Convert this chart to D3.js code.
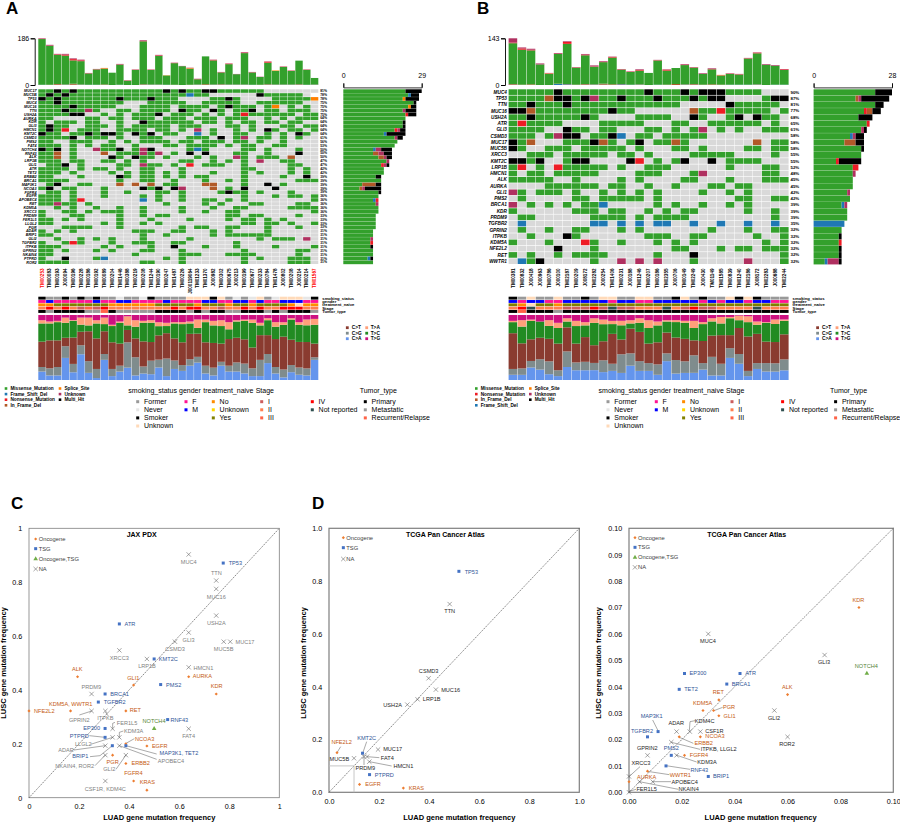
<!DOCTYPE html>
<html>
<head>
<meta charset="utf-8">
<script src="https://cdn.jsdelivr.net/npm/d3@7"></script>
<style>
body { margin: 0; background: #fff; }
text { font-family: "Liberation Sans", Arial, sans-serif; fill: #000; }
</style>
</head>
<body>
<div id="chart"></div>
<script>
// ---- panel A data ----
var samplesA = ["TM00253","TM00083","TM00193","J000094","TM00196","TM00228","TM00186","TM00192","TM00089","TM00204","TM01446","TM00388","TM00219","TM00208","TM01244","TM00190","TM00247","TM01487","TM00226","J000119064","TM01233","TM01370","J000982","TM00302","TM00675","J000213","TM00199","TM00677","TM00233","TM00784","TM01478","J000802","TM00208","J000214","TM00214","TM01567"];
var genesA = ["MUC17","MUC5B","TP53","MUC4","MUC16","TTN","USH2A","AURKA","KDR","GLI3","HMCN1","KMT2C","CSMD3","PMS2","FAT4","NOTCH4","RNF43","ALK","LRP1B","GLI1","ATR","TET2","ERBB2","BRCA1","MAP3K1","NCOA3","FGFR4","EGFR","APOBEC4","RET","KDM5A","XRCC3","PRDM9","FER1L5","LLGL2","PGR","ADAR","BRIP1","GLI2","TGFBR2","ITPKB","GPRIN2","NKAIN4","PTPRD","ROR2"];
// one string per gene, one letter per sample: g missense, b frame shift, r nonsense, n in frame, o splice, p unknown, k multi hit
var matrixA = [
"ggkgkg gggggg ggggkg kggkkg ggggg. ......",
"gkgkgg gggggg gggggg gbgg.. ....k ggggg.",
"kgkggg ggggkg ggkggg ....gg kg.... gggggo",
"ggkggg ggggg. ..gggg g..ggg gg..gg gggg..",
"ggggkg gggg.. .gggg. gggg.g kggg.g o.g.g.",
"gggkgg pg..gg .gggg. kgg.kg .ggk.g g.ggg.",
"ggggkk ..g.g. gggk.g gg.g.g .grggg ggg.gg",
"gg.... gg.gg. ggg.gg g.ggg. ggg..g .g.ggg",
"g.ggg. gg..g. .kgggg gg.gg. g.gg.g g.gg..",
"gkgg.. ggg.g. ggggg. ggg... gg.g.. .gg.gg",
"gkgr.g gg..gg gg.gg. g.p.g. .g.g.k g.gg.g",
"kgg.gg kgkkg. kgk.gg ..b.g. .gg..g .g.kg.",
"ggggk. ggg.g. .ggg.. .ggg.k .gp.gg .g.g..",
"gg..gg g..g.g .gggg. gg.ggg .gg.g. .g....",
"ggg.g. g.gg.. g...gg .gggg. g.gg.. gg....",
"kgk.g. .pggk. gpk... .gbg.. ..gg.g ...g..",
"ggn.g. ..n.gg gpgp.g .k.k.. .gg..g ...k..",
"ggn.g. ...kg. kgg.g. ..g.g. .pg.gg g.n...",
"ggg.gg ..gg.g .g.... gg..g. g.g.p. .gg...",
".ggk.g ....gg .pgg.g .r.ggg ..g... ..gg..",
"gggg.g .gg.g. .gg... g..... ..gg.. ..g.g.",
"ggg.g. ...g.g .gg.g. g...g. ..g.g. ..g.g.",
"gg...g ....kg .gg.g. g.gg.. ..g... .g..k.",
"gggg.. ....g. .gg..g ...g.. g.g... ...ggg",
".gk..g g...n. n.n.gg ...nn. ..g..k .g....",
"gk.gg. ..g... .kgk.k p...n. g.k... k.....",
".gg.g. ..g..g ...gg. g....g kgg.g. ..g...",
"ggg.g. ..g... .g.g.. g..... ..g... g.gg.g",
"ggg.gr ...... .b.g.. g..gg. g.g... .....g",
"ggpgg. g..... ....g. ...g.g ...gg. ...gg.",
"..g.g. .g..g. .g.... g...g. .gg... ..gggg",
"g..gg. g.ggg. .g.... g..g.. gg.... .....g",
"g...gg ....g. .g.gg. ...... gg.gg. ...g..",
"gg.g.g ....g. ..g... .g.... g.gg.g .g....",
"gg.... ..g.g. .g.g.. ...... ..gg.g g.g..g",
"...ggg g...g. ...... g.gg.. gg...g ...g..",
"g.g.g. ...... ggg..g g...g. g....g ......",
"gg.... ...... .g..g. ....g. gggggg ......",
"..g..g .g.g.. .g.... .g.... ....g. ggg.p.",
"g..grg ...g.. ggg..g g..... .g.... ......",
"ggg... ..g.g. ..g..k ...g.. .g.... g....g",
"gg.g.. .g.g.. .gg... g..... ..g... ...gg.",
"gg.... ...... g..... ggg... gggg.. ...g..",
"g..k.. .gb... ....g. g..... ..g.g. ..ggg.",
"gggg.. ...... .gg... g..... ..g... ..ggg."
];
var missenseA = [182,155,116,115,93,93,45,61,63,49,80,17,60,171,58,114,37,86,75,64,21,111,96,47,81,41,125,49,31,86,54,70,54,94,59,26];
var frameShiftA = [1,0,1,1,1,1,1,1,0,0,1,0,0,1,1,1,1,0,0,0,1,0,1,1,1,1,1,1,0,1,1,1,1,1,1,1];
var inFrameA = [0,1,3,1,4,1,0,0,2,0,0,0,0,2,1,1,0,1,0,1,1,3,1,2,1,1,1,0,1,2,1,1,1,2,0,1];
var nonsenseA = [1,1,2,4,5,3,1,1,1,0,1,1,1,1,1,2,0,1,0,1,1,0,2,1,2,0,2,1,0,4,0,1,1,0,1,0];
var spliceA = [0,0,0,0,0,0,0,0,2,0,0,0,0,0,0,0,1,0,0,2,0,0,0,0,0,0,0,0,0,0,2,0,0,0,0,0];
var unknownA = [2,3,2,3,3,3,1,1,0,0,2,1,1,3,1,2,0,1,1,1,1,0,1,1,1,1,2,1,1,1,0,1,1,0,1,0];
var smokingA = "SFFSFS FSFFNF FNSFFF FUUUSU FNFNUF NUUUNS";
var genderA = "FMFFFF FMFFMM FFFFMF FFFMMF FMMFMF FMMMFF";
var treatmentA = "NNYYYY YYYNNN NNNYYY YYNYYY NYYNYY YYNPNN";
var stageA = "242421 314222 222224 244221 224242 244422";
var tumorA = "PMPPPP MMRPMM MMMPPP PMPMPP MMPPPM PMPPPM";
var caA = [13,7,7,34,12,40,11,3,31,6,13,19,7,10,9,19,6,17,14,22,27,10,7,22,13,13,10,6,6,26,10,4,12,8,7,31];
var cgA = [7,11,13,18,13,14,18,14,9,11,9,39,28,11,21,12,27,13,9,10,9,12,12,6,9,14,15,12,25,14,10,12,11,11,11,4];
var ctA = [39,43,41,13,41,21,46,47,35,41,34,19,29,39,29,37,39,34,35,39,36,36,38,28,41,38,37,32,38,29,43,50,39,39,41,21];
var tcA = [28,26,28,23,26,11,9,23,11,25,32,7,18,29,30,14,11,23,28,16,9,31,27,27,15,25,28,38,15,23,19,18,31,26,26,29];
var taA = [5,3,2,8,1,11,12,5,10,2,2,14,10,3,4,6,5,2,3,3,13,4,7,9,11,2,2,5,4,3,7,4,2,4,9,9];
var tgA = [8,10,9,4,8,4,4,8,4,15,10,2,8,9,8,11,12,11,11,10,7,7,9,8,11,8,7,7,12,5,11,11,5,11,7,6];

// ---- panel B data ----
var samplesB = ["TM00381","TM00832","J000418","J000963","TM00786","J000100","TM02187","TM00209","J008172","TM02282","J000254","TM01406","TM00231","J000188","TM01246","TM00207","TM00186","TM02355","J000706","TM00149","TM02249","J000430","TM01149","TM01585","TM00839","TM01240","TM02186","J008172","TM02283","J000688","TM02244"];
var genesB = ["MUC4","TP53","TTN","MUC16","USH2A","ATR","GLI3","CSMD3","MUC17","MUC5B","XRCC3","KMT2C","LRP1B","HMCN1","ALK","AURKA","GLI1","PMS2","BRCA1","KDR","PRDM9","TGFBR2","GPRIN2","ITPKB","KDM5A","NFE2L2","RET","WWTR1"];
var matrixB = [
"ggggg kgggg ggggg kgggk gkkkg ggg.. .",
"ggggn kkgkp ggkgg gkggg kgkk. ...gk k",
"ggkgg gkggg ggggg gggg. ....k ggggg .",
"kkngg ggggg gkgg. ..... nggrg gggg. g",
"ggkgg gggkg ....g ggg.. kg..g k.kgg .",
"grggg g.... ggggg ...gg ..ggg ggg.g .",
"gggg. .kgg. gg... gg.g. gp.g. g..gg g",
"ggg.g pkk.g gkb.g g.ggg gg... ..... .",
"kgn.. .gggk ng.gk .ggng ..... ..n.g g",
"kg..g gg.gg ggg.g ...gg .g... .gg.g g",
"..ggg .gggg g.gg. g.... ggggg ....g .",
"kkgk. .gkk. ...kr .g.gk ..k.g ggg.. .",
"gr.g. rgggg g.g.. ggg.. ....g ...gg .",
"g.gg. ggggg ....g gg... gp... ...gg .",
"ggggg ..g.. ..g.g ....g g...g ...gg g",
"....g ggggg .gg.. g..g. ..gg. gg... .",
"pg.gg g.g.. g.g.g .g... .g..g .g... .",
".g... ..gg. ggggg .g... ..... gg..g g",
"p.g.g .g.gg b.... .g.g. .g..g .g... .",
"g.... ..ggg .gg.. g.g.g g.... .g..g .",
".gg.. ....g ggg.g .gggg ..... ....g .",
".b... ....b b.b.b .bb.. b..b. .b..b .",
".g..g ..gg. ..g.g ..... ..g.. .g..g g",
"..g.. .kg.. ..... ggg.. gg... ..g.. g",
"g...g ...rg ..g.. .g.g. g.... ...g. g",
"..... k...g ..... ...gg ...g. gg.gg g",
"g.g.. g.ggg g.... .g... k.... ..... g",
".bgk. ....g ..p.p .p... g.... .p... g"
];
var missenseB = [125,107,104,63,34,91,123,52,88,54,66,82,44,39,42,37,74,43,49,59,50,33,46,28,33,31,80,95,62,58,45];
var frameShiftB = [1,0,0,0,0,3,2,0,1,1,1,0,2,1,1,0,1,0,0,1,1,0,0,0,1,1,1,1,0,1,1];
var inFrameB = [2,1,2,0,0,1,1,1,2,1,3,2,1,0,1,0,0,1,3,1,2,1,2,1,0,0,0,1,0,0,0];
var nonsenseB = [2,4,2,0,1,1,6,1,2,1,1,2,1,1,2,0,1,3,0,1,1,0,1,1,1,1,1,2,0,0,2];
var spliceB = [0,0,0,0,1,0,0,0,0,0,0,0,0,0,0,0,0,0,0,0,0,0,0,1,0,0,0,0,0,0,0];
var unknownB = [13,3,3,3,1,2,2,1,2,3,2,1,1,1,2,0,1,1,0,2,1,2,2,0,1,1,1,1,2,2,1];
var smokingB = "SFUFF UFFSF UUFFU UFFSU FSFFU SUSFF F";
var genderB = "MFMMF FMMMM MFMMF FMMMM MFMFM MFMMF F";
var treatmentB = "YNPYY NYYYY YYYYY YYYYY YYYYY YYYYY Y";
var stageB = "24N22 21114 1N112 22N21 41122 22N22 2";
var tumorB = "PRPPP MPPPP PPPPP PPPPP PPPPP PPPPP P";
var caB = [8,8,19,16,9,6,20,15,15,15,12,14,11,22,14,14,8,29,10,11,11,16,7,7,34,25,6,17,13,13,15];
var cgB = [9,10,10,16,20,9,24,12,13,11,18,11,29,19,15,12,16,12,21,18,27,10,29,18,15,15,8,9,13,13,17];
var ctB = [55,39,33,33,35,41,37,29,38,27,29,46,23,38,45,30,34,32,35,35,23,34,33,44,20,40,53,45,33,33,39];
var tcB = [17,26,28,25,20,24,9,27,18,34,26,15,22,8,14,24,26,17,24,25,19,26,22,18,26,12,22,14,29,28,21];
var taB = [2,10,2,0,9,8,5,8,5,7,7,5,7,5,7,12,6,2,3,3,11,3,5,10,2,7,9,5,1,7,2];
var tgB = [9,8,7,10,8,12,5,9,11,5,7,9,9,8,5,8,10,8,8,9,9,11,5,3,3,1,2,10,11,7,7];

// ---- scatter data ----
var jaxGenes = ["ALK","KDM5A, WWTR1","NFE2L2","GLI1","AURKA","KDR","RET","NCOA3","EGFR","PGR","ERBB2","FGFR4","KRAS","TP53","ATR","KMT2C","PMS2","BRCA1","TGFBR2","RNF43","EP300","PTPRD","BRIP1","MAP3K1, TET2","NOTCH4","MUC4","TTN","MUC16","USH2A","GLI3","CSMD3","MUC5B","MUC17","XRCC3","LRP1B","HMCN1","PRDM9","GPRIN2","ITPKB","FER1L5","FAT4","KDM3A","LLGL2","ADAR","APOBEC4","NKAIN4, ROR2","GLI2","CSF1R, KDM4C"];
var jaxLuad = [.194,.166,0,.418,.638,.748,.387,.387,.471,.334,.387,.418,.471,.776,.361,.5,.526,.304,.277,.554,.304,.304,.333,.387,.5,.638,.748,.748,.748,.638,.583,.778,.804,.361,.471,.638,.25,.25,.305,.334,.638,.361,.334,.305,.361,.305,.387,.305];
var jaxLusc = [.449,.322,.322,.418,.449,.385,.322,.2,.192,.158,.127,.062,.028,.871,.645,.515,.42,.385,.355,.29,.257,.224,.193,.193,.256,.903,.806,.775,.676,.613,.579,.579,.579,.547,.515,.484,.385,.322,.322,.256,.256,.224,.224,.193,.193,.158,.158,.062];
var jaxTypes = "OOOOOOOOOOOOOTTTTTTTTTTTGNNNNNNNNNNNNNNNNNNNNNNN";

var tcgaGenes = ["TP53","PTPRD","KMT2C","EGFR","KRAS","NFE2L2","TTN","CSMD3","MUC16","LRP1B","USH2A","MUC17","FAT4","MUC5B","HMCN1","PRDM9"];
var tcgaLuad = [.519,.162,.134,.122,.297,.032,.482,.398,.427,.354,.313,.196,.152,.1,.161,.14];
var tcgaLusc = [.837,.067,.148,.03,.016,.15,.713,.432,.389,.352,.332,.162,.135,.129,.116,.135];
var tcgaTypes = "TTTOOONNNNNNNNNN";

var lowGenes = ["KDR","ALK","RET","KDM5A","PGR","GLI1","NCOA3","ERBB2","FGFR4","WWTR1","AURKA","EP300","ATR","BRCA1","TET2","MAP3K1","TGFBR2","PMS2","RNF43","BRIP1","NOTCH4","GLI3","GLI2","ROR2","MUC4","ADAR","KDM4C","CSF1R","ITPKB, LLGL2","KDM3A","GPRIN2","XRCC3","APOBEC4","NKAIN4","FER1L5"];
var lowLuad = [.087,.06,.034,.028,.032,.034,.027,.019,.021,.007,0,.021,.042,.037,.019,.011,.007,.016,.014,.03,.09,.074,.055,.06,.03,.018,.023,.027,.016,.018,.007,0,.009,.004,0];
var lowLusc = [.07,.037,.035,.031,.031,.029,.021,.021,.014,.008,.004,.045,.045,.041,.039,.023,.021,.014,.01,.006,.045,.052,.031,.021,.06,.023,.023,.023,.019,.014,.014,.006,.004,.004,0];
var lowTypes = "OOOOOOOOOOOTTTTTTTTTGNNNNNNNNNNNNNN";

// ---- colours ----
var mutColors = {g:"#33a02c", b:"#1f78b4", r:"#ee1c25", n:"#b15928", o:"#ff7f00", p:"#b03060", k:"#000000"};
var trackColors = [
    {F:"#999999", N:"#e6e6e6", S:"#000000", U:"#ffdab9"},
    {F:"#ff1493", M:"#0000ff"},
    {N:"#ff8c00", U:"#ffd700", Y:"#808000", P:"#ffdab9"},
    {1:"#cd5c5c", 2:"#ff7f50", 3:"#ff6347", 4:"#ff0000", N:"#2f4f4f"},
    {P:"#000000", M:"#999999", R:"#ff6347"}
];
var titvColors = {ca:"#6495ed", cg:"#7f8c8d", ct:"#8a3b30", tc:"#228b22", ta:"#ffa07a", tg:"#cd1080"};
var typeColors = {O:"#ed7d31", T:"#4472c4", G:"#70ad47", N:"#595959"};
var labelColors = {O:"#c55a11", T:"#2f5597", G:"#548235"};

var svg = d3.select("#chart").append("svg")
    .attr("width", 900)
    .attr("height", 822);

function clean(s) { return s.replace(/ /g, ""); }

function square(g, x, y, size, color) {
    g.append("rect").attr("x", x - size / 2).attr("y", y - size / 2)
        .attr("width", size).attr("height", size).attr("fill", color);
}

function note(g, x, y, size, str) {
    return g.append("text").attr("x", x).attr("y", y).attr("dy", "0.35em")
        .style("font-size", size + "px").text(str);
}

function drawOnco(dx, d) {
    var g = svg.append("g").attr("transform", `translate(${dx}, 0)`);
    var rows = d.matrix.map(clean);
    var x = d3.scaleBand().domain(d3.range(d.samples.length)).range([38.3, 318.3]).paddingInner(0.05);
    var y = d3.scaleBand().domain(d.genes).range([89.3, 264]).paddingInner(0.1);

    // sample stacks on top
    var topKeys = ["frameShift", "inFrame", "missense", "nonsense", "splice", "unknown"];
    var topColors = {frameShift:mutColors.b, inFrame:mutColors.n, missense:mutColors.g, nonsense:mutColors.r, splice:mutColors.o, unknown:mutColors.p};
    var topData = d.samples.map((s, i) => {
        var o = {i: i};
        topKeys.forEach(k => { o[k] = d[k][i]; });
        return o;
    });
    var topY = d3.scaleLinear().domain([0, d.topMax]).range([85, 38.3]);
    g.selectAll(".top").data(d3.stack().keys(topKeys)(topData)).enter().append("g")
        .attr("fill", s => topColors[s.key])
        .selectAll("rect").data(s => s).enter().append("rect")
        .attr("x", p => x(p.data.i))
        .attr("width", x.bandwidth())
        .attr("y", p => topY(p[1]))
        .attr("height", p => topY(p[0]) - topY(p[1]));
    var topAxis = g.append("g").attr("transform", "translate(34.7, 0)")
        .call(d3.axisLeft(topY).tickValues([0, d.topMax]).tickSize(4).tickFormat(d3.format("d")));
    topAxis.selectAll("text").style("font-size", "7px").attr("x", -5.5);
    topAxis.selectAll("path,line").attr("stroke-width", 0.9);

    // mutation matrix
    var cells = [];
    rows.forEach((r, j) => r.split("").forEach((c, i) => cells.push({gene: d.genes[j], i: i, c: c})));
    g.selectAll(".cell").data(cells).enter().append("rect")
        .attr("x", p => x(p.i))
        .attr("y", p => y(p.gene))
        .attr("width", x.bandwidth())
        .attr("height", y.bandwidth())
        .attr("fill", p => p.c === "." ? "#d9d9d9" : mutColors[p.c]);

    // gene and percent labels
    d.genes.forEach((name, j) => {
        var n = rows[j].replace(/\./g, "").length;
        var cy = y(name) + y.bandwidth() / 2;
        note(g, 36.6, cy, d.geneFont, name).attr("text-anchor", "end")
            .style("font-weight", "bold").style("font-style", "italic");
        note(g, 320.2, cy, d.geneFont - 0.3, Math.round(n / d.samples.length * 100) + "%")
            .style("font-weight", "bold");
    });

    // gene stacks on the right, counted from the matrix
    var sideData = rows.map((r, j) => {
        var o = {gene: d.genes[j]};
        d.sideKeys.forEach(k => { o[k] = r.split(k).length - 1; });
        return o;
    });
    var sideX = d3.scaleLinear().domain([0, d.sideMax]).range([343.3, 421.7]);
    g.selectAll(".side").data(d3.stack().keys(d.sideKeys)(sideData)).enter().append("g")
        .attr("fill", s => mutColors[s.key])
        .selectAll("rect").data(s => s).enter().append("rect")
        .attr("x", p => sideX(p[0]))
        .attr("y", p => y(p.data.gene))
        .attr("width", p => sideX(p[1]) - sideX(p[0]))
        .attr("height", y.step() - 0.2);
    var sideAxis = g.append("g").attr("transform", "translate(0, 87.4)")
        .call(d3.axisTop(sideX).tickValues([0, d.sideMax]).tickSize(4).tickFormat(d3.format("d")));
    sideAxis.selectAll("text").style("font-size", "7px").attr("y", -9);
    sideAxis.selectAll("path,line").attr("stroke-width", 0.8);

    // sample ids
    d.samples.forEach((s, i) => {
        g.append("text")
            .attr("transform", `translate(${x(i) + x.bandwidth() / 2}, 268.5) rotate(-90)`)
            .attr("text-anchor", "end").attr("dy", "0.35em")
            .style("font-size", "4.6px").style("font-weight", "bold")
            .style("fill", d.redSamples.includes(i) ? "#ff0000" : "#000")
            .text(s);
    });

    // clinical tracks
    d.tracks.forEach((t, k) => {
        clean(t).split("").forEach((c, i) => {
            g.append("rect").attr("x", x(i)).attr("y", 296.7 + k * 3.33)
                .attr("width", x.bandwidth()).attr("height", 2.9)
                .attr("fill", trackColors[k][c]);
        });
        note(g, 322.3, 298.3 + k * 3.33, 4.2, ["smoking_status", "gender", "treatment_naive", "Stage", "Tumor_type"][k])
            .style("font-weight", "bold");
    });

    // titv fractions
    var titvKeys = ["ca", "cg", "ct", "tc", "ta", "tg"];
    var titvData = d.samples.map((s, i) => {
        var o = {i: i};
        titvKeys.forEach(k => { o[k] = d.titv[k][i]; });
        return o;
    });
    var titvY = d3.scaleLinear().domain([0, 1]).range([380, 315]);
    g.selectAll(".titv").data(d3.stack().keys(titvKeys).offset(d3.stackOffsetExpand)(titvData)).enter().append("g")
        .attr("fill", s => titvColors[s.key])
        .selectAll("rect").data(s => s).enter().append("rect")
        .attr("x", p => x(p.data.i))
        .attr("width", x.bandwidth())
        .attr("y", p => titvY(p[1]))
        .attr("height", p => titvY(p[0]) - titvY(p[1]));
    [["ct", "C>T", "ta", "T>A"], ["cg", "C>G", "tc", "T>C"], ["ca", "C>A", "tg", "T>G"]].forEach((r, i) => {
        var ly = 327.7 + i * 5.5;
        square(g, 347.3, ly, 2.8, titvColors[r[0]]);
        note(g, 351.7, ly, 4.8, r[1]).style("font-weight", "bold");
        square(g, 366.7, ly, 2.8, titvColors[r[2]]);
        note(g, 370.7, ly, 4.8, r[3]).style("font-weight", "bold");
    });

    // mutation legend
    d.mutLegend.forEach((m, i) => {
        var lx = i < 4 ? 6 : 60;
        var ly = 388.5 + (i < 4 ? i : i - 4) * 5.6;
        square(g, lx, ly, 2.6, mutColors[m[0]]);
        note(g, lx + 4.4, ly, 4.7, m[1]).style("font-weight", "bold");
    });

    // clinical legend
    [[128.3, "smoking_status"], [179, "gender"], [203.3, "treatment_naive"], [255.7, "Stage"], [359.7, "Tumor_type"]].forEach(h => {
        note(g, h[0], 391, 7, h[1]);
    });
    [
        [137.7, [["Former", "#999999"], ["Never", "#e6e6e6"], ["Smoker", "#000000"], ["Unknown", "#ffdab9"]]],
        [186, [["F", "#ff1493"], ["M", "#0000ff"]]],
        [213.3, [["No", "#ff8c00"], ["Unknown", "#ffd700"], ["Yes", "#808000"]]],
        [261.7, [["I", "#cd5c5c"], ["II", "#ff7f50"], ["III", "#ff6347"]]],
        [312.3, [["IV", "#ff0000"], ["Not reported", "#2f4f4f"]]],
        [365.3, [["Primary", "#000000"], ["Metastatic", "#999999"], ["Recurrent/Relapse", "#ff6347"]]]
    ].forEach(col => {
        col[1].forEach((it, i) => {
            var ly = 401.7 + i * 8.1;
            square(g, col[0], ly, 3, it[1]);
            note(g, col[0] + 6.3, ly, 7, it[0]);
        });
    });
}

drawOnco(0, {
    samples: samplesA, genes: genesA, matrix: matrixA, topMax: 186, sideMax: 29, geneFont: 3.7,
    redSamples: [0, 35],
    missense: missenseA, frameShift: frameShiftA, inFrame: inFrameA, nonsense: nonsenseA, splice: spliceA, unknown: unknownA,
    sideKeys: ["g", "b", "r", "n", "o", "p", "k"],
    tracks: [smokingA, genderA, treatmentA, stageA, tumorA],
    titv: {ca: caA, cg: cgA, ct: ctA, tc: tcA, ta: taA, tg: tgA},
    mutLegend: [["g", "Missense_Mutation"], ["b", "Frame_Shift_Del"], ["r", "Nonsense_Mutation"], ["n", "In_Frame_Del"], ["o", "Splice_Site"], ["p", "Unknown"], ["k", "Multi_Hit"]]
});
drawOnco(470.3, {
    samples: samplesB, genes: genesB, matrix: matrixB, topMax: 143, sideMax: 28, geneFont: 4.7,
    redSamples: [],
    missense: missenseB, frameShift: frameShiftB, inFrame: inFrameB, nonsense: nonsenseB, splice: spliceB, unknown: unknownB,
    sideKeys: ["g", "r", "n", "b", "o", "p", "k"],
    tracks: [smokingB, genderB, treatmentB, stageB, tumorB],
    titv: {ca: caB, cg: cgB, ct: ctB, tc: tcB, ta: taB, tg: tgB},
    mutLegend: [["g", "Missense_Mutation"], ["r", "Nonsense_Mutation"], ["n", "In_Frame_Del"], ["b", "Frame_Shift_Del"], ["o", "Splice_Site"], ["p", "Unknown"], ["k", "Multi_Hit"]]
});

[["A", 6, 14], ["B", 477, 14], ["C", 11, 509], ["D", 312, 509]].forEach(p => {
    svg.append("text").attr("x", p[1]).attr("y", p[2])
        .style("font-size", "17px").style("font-weight", "bold").text(p[0]);
});

// gene class marker: O diamond, T square, G triangle, N cross
function marker(g, t, px, py) {
    var mark = g.append("path");
    if (t === "N") {
        mark.attr("transform", `translate(${px}, ${py})`)
            .attr("d", d3.symbol().type(d3.symbolTimes).size(14)())
            .attr("fill", "none").attr("stroke", typeColors.N).attr("stroke-width", 0.55);
    } else if (t === "O") {
        mark.attr("transform", `translate(${px}, ${py}) rotate(45)`)
            .attr("d", d3.symbol().type(d3.symbolSquare).size(5)())
            .attr("fill", typeColors.O);
    } else {
        mark.attr("transform", `translate(${px}, ${py})`)
            .attr("d", d3.symbol().type(t === "T" ? d3.symbolSquare : d3.symbolTriangle).size(9)())
            .attr("fill", typeColors[t]);
    }
}

function drawScatter(c) {
    var g = svg.append("g");
    var x = d3.scaleLinear().domain([0, c.max]).range([c.left, c.right]);
    var y = d3.scaleLinear().domain([0, c.max]).range([c.bottom, c.top]);

    var xAxis = g.append("g").attr("transform", `translate(0, ${c.bottom})`)
        .call(d3.axisBottom(x).tickValues(c.xTicks).tickSize(0).tickFormat(c.format));
    var yAxis = g.append("g").attr("transform", `translate(${c.left}, 0)`)
        .call(d3.axisLeft(y).tickValues(c.yTicks).tickSize(0).tickFormat(c.format));
    xAxis.select(".domain").remove();
    yAxis.select(".domain").remove();
    xAxis.selectAll("text").style("font-size", "7.2px").attr("y", 6.5).attr("dy", "0.71em");
    yAxis.selectAll("text").style("font-size", "7.2px").attr("x", -6.8);

    g.append("rect").attr("x", c.left).attr("y", c.top)
        .attr("width", c.right - c.left).attr("height", c.bottom - c.top)
        .attr("fill", "none").attr("stroke", "#7f7f7f").attr("stroke-width", c.border);
    g.append("line").attr("x1", x(0)).attr("y1", y(0)).attr("x2", x(c.max)).attr("y2", y(c.max))
        .attr("stroke", "#333").attr("stroke-width", 0.6).attr("stroke-dasharray", "1.5,1");
    if (c.zoomBox) {
        g.append("path").attr("fill", "none").attr("stroke", "#bfbfbf").attr("stroke-width", 0.9)
            .attr("d", `M${x(0)},${y(c.zoomBox)}H${x(c.zoomBox)}V${y(0)}`);
    }

    var zx = v => v / 3 + c.ox;
    var zy = v => v / 3 + 500;
    c.leaders.forEach(pts => {
        g.append("path").attr("fill", "none").attr("stroke", "#404040").attr("stroke-width", 0.45)
            .attr("d", d3.line().x(p => zx(p[0])).y(p => zy(p[1]))(pts));
    });

    c.genes.forEach((name, i) => {
        var t = c.types[i];
        marker(g, t, x(c.luad[i]), y(c.lusc[i]));
        var pos = c.labels[name];
        note(g, zx(pos[0]), zy(pos[1]), 5.6, name).attr("text-anchor", "middle")
            .style("fill", t === "N" ? c.naText : labelColors[t]);
    });

    c.legend.forEach(l => {
        var lx = zx(c.legendX), ly = zy(l[2]);
        marker(g, l[1], lx, ly);
        note(g, lx + 3, ly, 5.8, l[0]).style("fill", "#404040");
    });

    note(g, zx(c.titleX), zy(c.titleY), 7, c.title).attr("text-anchor", "middle").style("font-weight", "bold");
    note(g, zx(c.xTitleX), 817.7, 7.5, "LUAD gene mutation frequency").attr("text-anchor", "middle").style("font-weight", "bold");
    g.append("text")
        .attr("transform", `translate(${c.yTitleX}, 663) rotate(-90)`)
        .attr("text-anchor", "middle").attr("dy", "0.35em")
        .style("font-size", "7.5px").style("font-weight", "bold")
        .text("LUSC gene mutation frequency");
}

drawScatter({
    ox: 0, left: 29, right: 279.3, top: 528.3, bottom: 797.7, max: 1, border: 0.8,
    xTicks: [0, .2, .4, .6, .8, 1], yTicks: [0, .2, .4, .6, .8, 1], format: d3.format("~g"),
    genes: jaxGenes, luad: jaxLuad, lusc: jaxLusc, types: jaxTypes, naText: "#7f7f7f",
    title: "JAX PDX", titleX: 425, titleY: 104, xTitleX: 478, yTitleX: 3.5,
    legendX: 107,
    legend: [["Oncogene", "O", 117], ["TSG", "T", 146], ["Oncogene,TSG", "G", 177], ["NA", "N", 207]],
    labels: {"ALK":[232,507],"KDM5A, WWTR1":[212,611],"NFE2L2":[133,633],"GLI1":[400,534],"AURKA":[607,529],"KDR":[650,559],"RET":[406,631],"NCOA3":[434,716],"EGFR":[479,738],"PGR":[338,786],"ERBB2":[422,790],"FGFR4":[400,820],"KRAS":[442,846],"TP53":[706,190],"ATR":[390,372],"KMT2C":[505,478],"PMS2":[521,555],"BRCA1":[359,581],"TGFBR2":[344,607],"RNF43":[538,659],"EP300":[275,685],"PTPRD":[238,708],"BRIP1":[241,769],"MAP3K1, TET2":[537,759],"NOTCH4":[462,664],"MUC4":[566,186],"TTN":[649,219],"MUC16":[649,290],"USH2A":[649,369],"GLI3":[566,421],"CSMD3":[525,447],"MUC5B":[671,447],"MUC17":[735,425],"XRCC3":[358,473],"LRP1B":[441,499],"HMCN1":[610,503],"PRDM9":[274,560],"GPRIN2":[238,659],"ITPKB":[316,655],"FER1L5":[381,669],"FAT4":[566,708],"KDM3A":[401,694],"LLGL2":[250,733],"ADAR":[198,751],"APOBEC4":[513,782],"NKAIN4, ROR2":[224,798],"GLI2":[328,808],"CSF1R, KDM4C":[316,866]},
    leaders: [[[238,645],[275,633]],[[325,648],[316,636]],[[268,707],[315,712]],[[272,733],[338,712]],[[222,750],[316,737]],[[270,770],[300,767],[337,737]],[[285,797],[316,765]],[[348,808],[378,765]],[[470,778],[358,737]],[[470,762],[378,737]],[[345,667],[338,670],[338,686]],[[370,693],[358,697],[358,712]],[[403,716],[378,730]]]
});

drawScatter({
    ox: 300, left: 329, right: 579.3, top: 528.3, bottom: 792.3, max: 1, border: 1.2,
    xTicks: [0, .2, .4, .6, .8, 1], yTicks: [0, .2, .4, .6, .8, 1], format: d3.format(".1f"),
    genes: tcgaGenes, luad: tcgaLuad, lusc: tcgaLusc, types: tcgaTypes, naText: "#262626",
    title: "TCGA Pan Cancer Atlas", titleX: 436, titleY: 105, xTitleX: 478, yTitleX: 303.5, zoomBox: 0.1,
    legendX: 130,
    legend: [["Oncogene", "O", 113], ["TSG", "T", 143], ["NA", "N", 177]],
    labels: {"TP53":[514,216],"TTN":[449,334],"CSMD3":[386,512],"MUC16":[452,569],"LRP1B":[395,598],"USH2A":[278,615],"MUC17":[278,748],"KMT2C":[200,715],"FAT4":[262,773],"MUC5B":[118,776],"HMCN1":[310,798],"PRDM9":[196,804],"PTPRD":[253,825],"EGFR":[219,853],"KRAS":[349,865],"NFE2L2":[125,727]},
    leaders: [[[122,740],[111,758]],[[200,725],[188,760]],[[238,773],[201,770]],[[275,798],[208,785]],[[192,795],[192,770]]]
});

drawScatter({
    ox: 600, left: 629, right: 893.3, top: 528.3, bottom: 792.3, max: 0.1, border: 1.2,
    xTicks: [0, .02, .04, .06, .08, .1], yTicks: d3.range(0, 11).map(v => v / 100), format: d3.format(".2f"),
    genes: lowGenes, luad: lowLuad, lusc: lowLusc, types: lowTypes, naText: "#262626",
    title: "TCGA Pan Cancer Atlas", titleX: 440, titleY: 105, xTitleX: 482, yTitleX: 598,
    legendX: 105,
    legend: [["Oncogene", "O", 113], ["TSG", "T", 142], ["Oncogene,TSG", "G", 172], ["NA", "N", 202]],
    labels: {"KDR":[775,300],"ALK":[562,561],"NOTCH4":[799,498],"GLI3":[672,487],"GLI2":[522,654],"ROR2":[561,733],"MUC4":[324,424],"EP300":[294,520],"ATR":[452,520],"BRCA1":[423,552],"TET2":[273,568],"RET":[355,577],"KDM5A":[308,608],"PGR":[387,622],"GLI1":[389,647],"MAP3K1":[155,648],"TGFBR2":[126,692],"ADAR":[229,670],"KDM4C":[314,662],"CSF1R":[343,694],"NCOA3":[345,709],"ERBB2":[311,730],"ITPKB, LLGL2":[356,748],"PMS2":[214,743],"KDM3A":[321,786],"FGFR4":[297,765],"GPRIN2":[142,743],"RNF43":[298,809],"WWTR1":[241,825],"BRIP1":[363,829],"XRCC3":[123,790],"AURKA":[140,832],"APOBEC4":[254,845],"NKAIN4":[266,868],"FER1L5":[140,868]},
    leaders: [[[158,660],[174,692]],[[285,662],[270,665],[268,692]],[[280,730],[238,712]],[[300,748],[214,727]],[[290,786],[228,765]],[[270,808],[198,797]],[[208,824],[142,814]],[[213,845],[157,845]],[[235,868],[118,845]],[[108,868],[87,874]],[[120,800],[87,830]],[[368,622],[342,632]]]
});
</script>
</body>
</html>
